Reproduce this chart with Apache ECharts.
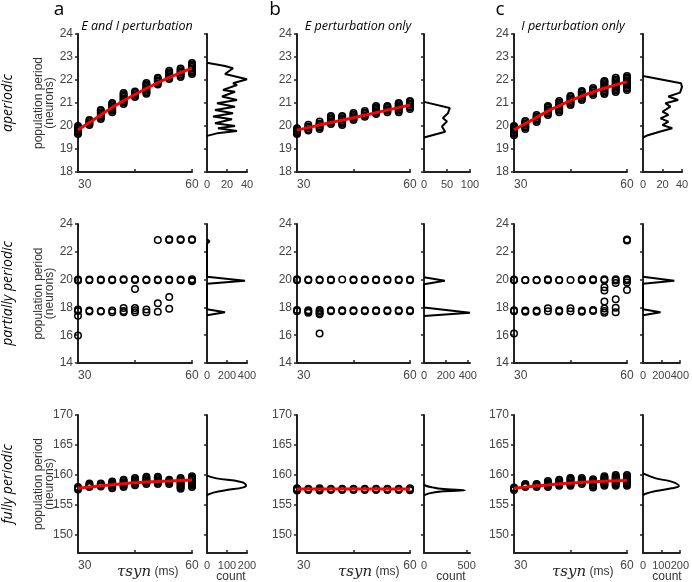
<!DOCTYPE html>
<html><head><meta charset="utf-8">
<script src="https://cdn.jsdelivr.net/npm/echarts@6/dist/echarts.min.js"></script>
<style>html,body{margin:0;padding:0;background:#fff}#c{width:692px;height:582px}</style>
</head><body><div id="c"></div>
<script>
// ---------------- DATA ----------------
const tauSyn = [30,33,36,39,42,45,48,51,54,57,60];
const panelLetters = ['a','b','c'];
const columnTitles = ['E and I perturbation','E perturbation only','I perturbation only'];
const rowTitles = ['aperiodic','partially periodic','fully periodic'];

// Row 1 (aperiodic): population period per tau (columns of repeated trials)
const aperiodicEI = [
 [19.65,19.7,19.76,19.82,19.88,19.94,20.0],
 [20.04,20.1,20.16,20.22,20.26],
 [20.3,20.36,20.42,20.48,20.54,20.6,20.66,20.7],
 [20.6,20.66,20.72,20.78,20.84,20.9,20.96,21.0],
 [20.96,21.02,21.08,21.14,21.2,21.26,21.32,21.38,21.43],
 [21.26,21.32,21.38,21.44,21.5],
 [21.4,21.46,21.52,21.58,21.64,21.7,21.76,21.82,21.87],
 [21.8,21.86,21.92,21.98,22.04,22.1],
 [22.04,22.1,22.16,22.22,22.28,22.34,22.4],
 [22.13,22.19,22.25,22.31,22.37,22.43,22.5],
 [22.26,22.32,22.38,22.44,22.5,22.56,22.62,22.68,22.74]
];
const aperiodicE = [
 [19.65,19.71,19.77,19.83,19.9],
 [19.8,19.86,19.92,19.98,20.05],
 [19.87,19.93,19.99,20.05,20.11,20.2],
 [20.09,20.15,20.21,20.27,20.33,20.39,20.43],
 [20.04,20.1,20.16,20.22,20.28,20.34,20.4,20.43],
 [20.26,20.32,20.38,20.44,20.5,20.57],
 [20.4,20.46,20.52,20.58,20.65],
 [20.52,20.58,20.64,20.7,20.76,20.82,20.87],
 [20.6,20.66,20.72,20.78,20.84,20.87],
 [20.6,20.66,20.72,20.78,20.84,20.9,20.96,21.0],
 [20.74,20.8,20.86,20.92,20.98,21.04,21.09]
];
const aperiodicI = [
 [19.6,19.66,19.72,19.78,19.84,19.9,19.96,20.0],
 [19.87,19.93,19.99,20.05,20.11,20.17,20.22],
 [20.17,20.23,20.29,20.35,20.41,20.48],
 [20.48,20.54,20.6,20.66,20.72,20.78,20.84,20.87],
 [20.6,20.66,20.72,20.78,20.84,20.9,20.96,21.02,21.09],
 [20.91,20.97,21.03,21.09,21.15,21.21,21.27,21.3],
 [21.13,21.19,21.25,21.31,21.37,21.43,21.49,21.52],
 [21.35,21.41,21.47,21.53,21.59,21.65],
 [21.39,21.45,21.51,21.57,21.63,21.69,21.75,21.81,21.87,21.93,21.96],
 [21.48,21.54,21.6,21.66,21.72,21.78,21.84,21.9,21.96,22.02,22.1],
 [21.57,21.63,21.69,21.75,21.81,21.87,21.93,21.99,22.05,22.11,22.17]
];
const fitAperiodicEI = [19.83,20.15,20.48,20.8,21.1,21.37,21.63,21.88,22.1,22.32,22.52];
const fitAperiodicE  = [19.82,19.93,20.04,20.15,20.25,20.36,20.47,20.58,20.69,20.8,20.91];
const fitAperiodicI  = [19.83,20.1,20.37,20.65,20.88,21.1,21.3,21.48,21.64,21.79,21.92];

// Row 2 (partially periodic): [tau, period] points
const partialEI = [
 [30,20.0],[30,19.93],[33,20.0],[33,19.96],[36,20.0],[36,19.96],[39,20.0],[39,19.96],[42,20.03],[42,19.97],[45,20.03],[45,19.97],
 [48,20.0],[48,19.95],[51,20.0],[51,19.95],[54,20.0],[54,19.95],[57,20.0],[57,19.95],[60,20.03],[60,19.93],[60,19.88],
 [30,17.85],[30,17.75],[30,17.4],[30,15.97],[33,17.78],[33,17.7],[36,17.75],[36,17.7],[39,17.78],[39,17.65],
 [42,17.95],[42,17.75],[42,17.65],[45,17.95],[45,17.8],[45,17.65],[48,17.85],[48,17.65],[51,17.68],[51,18.3],
 [54,17.9],[54,18.75],[45,19.33],
 [51,22.85],[54,22.9],[54,22.85],[57,22.9],[57,22.85],[60,22.9],[60,22.85]
];
const partialE = [
 [30,20.02],[30,19.95],[33,20.0],[33,19.96],[36,20.0],[36,19.96],[39,20.0],[39,19.96],[42,20.0],[45,20.0],[45,19.96],
 [48,20.0],[48,19.96],[51,20.0],[51,19.96],[54,20.0],[54,19.96],[57,20.0],[57,19.96],[60,20.0],[60,19.96],
 [30,17.82],[30,17.72],[33,17.8],[33,17.72],[36,17.82],[36,17.72],[39,17.8],[39,17.72],[42,17.8],[42,17.72],
 [45,17.8],[45,17.72],[48,17.8],[48,17.72],[51,17.8],[51,17.72],[54,17.8],[54,17.72],[57,17.8],[57,17.72],
 [60,17.8],[60,17.72],[33,17.62],[36,17.6],[36,17.5],[36,16.12]
];
const partialI = [
 [30,20.0],[30,19.95],[33,19.98],[33,19.95],[36,19.98],[36,19.95],[39,20.02],[39,19.96],[42,19.98],[42,19.95],[45,19.98],
 [48,20.02],[48,19.95],[51,20.02],[51,19.95],[54,20.02],[54,19.95],[57,20.02],[57,19.93],[57,19.75],[60,20.05],[60,19.95],[60,19.8],
 [30,17.8],[30,17.72],[33,17.78],[33,17.68],[36,17.78],[36,17.68],[39,17.93],[39,17.72],[42,17.8],[42,17.7],
 [45,17.93],[45,17.72],[48,17.78],[48,17.68],[51,17.82],[51,17.75],
 [30,16.12],[54,19.45],[54,19.22],[54,18.42],[54,17.92],[54,17.75],[54,17.62],[57,18.58],[57,17.98],[57,17.65],
 [60,22.88],[60,22.82],[60,19.25]
];

// Row 3 (fully periodic)
const fullyEI = [
 [157.6,157.8,158.0],
 [158.0,158.2,158.4,158.6],
 [158.1,158.3,158.5,158.6],
 [157.8,158.0,158.2,158.4,158.6,158.8,158.9],
 [158.0,158.2,158.4,158.6,158.8,159.0,159.2],
 [158.3,158.5,158.7,158.9,159.1,159.3,159.5],
 [158.5,158.7,158.9,159.1,159.3,159.5,159.7],
 [158.5,158.7,158.9,159.1,159.3,159.5,159.7],
 [158.5,158.7,158.9,159.0,159.2],
 [157.7,157.9,158.1,158.3,158.5,158.7,158.9,159.1,159.3,159.5],
 [158.0,158.2,158.4,158.6,158.8,159.0,159.2,159.4,159.6,159.8]
];
const fullyE = [
 [157.4,157.6,157.8],[157.5,157.7],[157.4,157.6,157.8],[157.5,157.7],[157.5,157.7],[157.5,157.7],
 [157.5,157.7],[157.5,157.7],[157.5,157.7],[157.5,157.7],[157.45,157.65,157.8]
];
const fullyI = [
 [157.5,157.7,157.9],
 [158.0,158.2,158.4,158.5],
 [158.0,158.2,158.4,158.5],
 [158.0,158.2,158.4,158.6,158.8,159.0],
 [158.2,158.4,158.6,158.8,159.0,159.2],
 [158.2,158.4,158.6,158.8,159.0,159.2,159.4,159.5],
 [158.5,158.7,158.9,159.1,159.3,159.5],
 [157.9,158.1,158.3,158.5,158.7,158.9,159.1,159.3],
 [158.2,158.4,158.6,158.8,159.0,159.2,159.4,159.6,159.8],
 [158.2,158.4,158.6,158.8,159.0,159.2,159.4,159.6,159.8,160.0],
 [158.2,158.4,158.6,158.8,159.0,159.2,159.4,159.6,159.8,160.0]
];
const fitFullyEI = [157.8,158.0,158.2,158.38,158.55,158.7,158.82,158.92,159.0,159.08,159.15];
const fitFullyE  = [157.68,157.68,157.68,157.68,157.68,157.68,157.68,157.68,157.68,157.68,157.68];
const fitFullyI  = [157.8,157.98,158.16,158.33,158.5,158.64,158.76,158.87,158.96,159.04,159.1];

// Histograms: [count, population period]
const histAperiodicEI = [[0,19.57],[10,19.68],[30,19.78],[11,19.9],[28,20.0],[8,20.12],[25,20.29],[6,20.41],[26,20.55],[8,20.7],[28,20.84],[10,20.99],[30,21.13],[15,21.28],[28,21.49],[16,21.57],[30,21.78],[26,21.86],[40,22.03],[18,22.26],[26,22.51],[18,22.61],[0,22.75]];
const histAperiodicE = [[0,19.5],[46,19.75],[39,19.98],[50,20.2],[41,20.35],[52,20.55],[56,20.78],[0,21.05]];
const histAperiodicI = [[0,19.5],[5,19.6],[17,19.75],[30,19.9],[20,20.04],[26,20.19],[18,20.33],[26,20.48],[20,20.62],[28,20.84],[23,20.99],[36,21.13],[26,21.28],[38,21.45],[40,21.7],[39,21.86],[0,22.17]];
const histPartialEI = [[0,17.43],[180,17.65],[0,17.86],[0,19.7],[380,19.92],[0,20.2],[0,22.6],[25,22.75],[0,22.9]];
const histPartialE = [[0,17.38],[420,17.62],[0,18.0],[0,19.66],[190,19.92],[0,20.17]];
const histPartialI = [[0,17.43],[190,17.65],[0,17.86],[0,19.7],[340,19.92],[0,20.2]];
const histFullyEI = [[0,156.67],[32,157.06],[98,157.5],[182,157.94],[195,158.3],[165,158.89],[48,159.44],[0,159.89]];
const histFullyE = [[0,156.6],[60,156.94],[200,157.25],[480,157.45],[200,157.7],[100,157.94],[20,158.2],[0,158.5]];
const histFullyI = [[0,156.6],[10,156.83],[70,157.33],[155,157.78],[195,158.17],[155,158.89],[70,159.44],[0,160.28]];

// axis ranges and tick labels
const periodAxes = [
 {min:18, max:24, ticks:[18,19,20,21,22,23,24]},
 {min:14, max:24, ticks:[14,16,18,20,22,24]},
 {min:147, max:170, ticks:[150,155,160,165,170]}
];
const countAxes = [
 [{max:40,ticks:[0,20,40]},{max:100,ticks:[0,50,100]},{max:40,ticks:[0,20,40]}],
 [{max:400,ticks:[0,200,400]},{max:420,ticks:[0,200,400]},{max:400,ticks:[0,200,400]}],
 [{max:200,ticks:[0,100,200]},{max:540,ticks:[0,500]},{max:200,ticks:[0,100,200]}]
];

// ---------------- LAYOUT ----------------
const scatLeft = [78, 297, 514], scatW = [114, 113, 113];
const histLeft = [207, 424, 643], histW = [40, 46, 39];
const rowTop = [34, 224, 415], rowH = [138, 139, 138];

const columnsData = [
 [aperiodicEI, aperiodicE, aperiodicI],
 [partialEI, partialE, partialI],
 [fullyEI, fullyE, fullyI]
];
const fitData = [
 [fitAperiodicEI, fitAperiodicE, fitAperiodicI],
 null,
 [fitFullyEI, fitFullyE, fitFullyI]
];
const histData = [
 [histAperiodicEI, histAperiodicE, histAperiodicI],
 [histPartialEI, histPartialE, histPartialI],
 [histFullyEI, histFullyE, histFullyI]
];

const AX = '#222', LAB = '#444', FONT = '"Liberation Sans", Arial, sans-serif';
const grids = [], xAxes = [], yAxes = [], series = [];

function yAxisDef(gi, r, showLabels) {
  const pa = periodAxes[r];
  return {
    type:'value', gridIndex:gi, min:pa.min, max:pa.max,
    axisLine:{show:true, lineStyle:{color:AX, width:2}},
    axisTick:{show:true, inside:false, length:3, lineStyle:{color:AX, width:1.5}, customValues:pa.ticks},
    axisLabel:{show:showLabels, color:LAB, fontSize:12, fontFamily:FONT, margin:5, customValues:pa.ticks},
    splitLine:{show:false}
  };
}

for (let r = 0; r < 3; r++) {
  for (let c = 0; c < 3; c++) {
    const gi = grids.length;
    grids.push({left:scatLeft[c], top:rowTop[r], width:scatW[c], height:rowH[r], containLabel:false});
    xAxes.push({
      type:'value', gridIndex:gi, min:30, max:60, interval:15,
      axisLine:{show:true, lineStyle:{color:AX, width:2}},
      axisTick:{show:true, inside:true, length:3, lineStyle:{color:AX, width:1.5}},
      axisLabel:{color:LAB, fontSize:12, fontFamily:FONT, margin:7, formatter:v => (v===45 ? '' : String(v)), alignMinLabel:'left', showMaxLabel:true, showMinLabel:true},
      splitLine:{show:false}
    });
    yAxes.push(yAxisDef(gi, r, true));
    let pts;
    if (r === 1) pts = columnsData[r][c];
    else {
      pts = [];
      columnsData[r][c].forEach((col, i) => col.forEach(v => pts.push([tauSyn[i], v])));
    }
    series.push({
      type:'scatter', xAxisIndex:gi, yAxisIndex:gi, data:pts,
      symbol:'circle', symbolSize:6.5, clip:false, z:3,
      itemStyle:{color:'rgba(255,255,255,0)', borderColor:'#000', borderWidth:1.5, opacity:1},
      emphasis:{disabled:true}, silent:true
    });
    if (fitData[r]) {
      series.push({
        type:'line', xAxisIndex:gi, yAxisIndex:gi, smooth:true, showSymbol:false, symbol:'none', z:5,
        data: tauSyn.map((t, i) => [t, fitData[r][c][i]]),
        lineStyle:{color:'#ff0000', width:3}, silent:true
      });
    }
  }
}
for (let r = 0; r < 3; r++) {
  for (let c = 0; c < 3; c++) {
    const gi = grids.length;
    const ca = countAxes[r][c];
    grids.push({left:histLeft[c], top:rowTop[r], width:histW[c], height:rowH[r], containLabel:false});
    xAxes.push({
      type:'value', gridIndex:gi, min:0, max:ca.max,
      axisLine:{show:true, lineStyle:{color:AX, width:2}},
      axisTick:{show:true, inside:true, length:3, lineStyle:{color:AX, width:1.5}, customValues:ca.ticks},
      axisLabel:{color:LAB, fontSize:11, fontFamily:FONT, margin:7, customValues:ca.ticks, hideOverlap:false},
      splitLine:{show:false}
    });
    yAxes.push(yAxisDef(gi, r, false));
    series.push({
      type:'line', xAxisIndex:gi, yAxisIndex:gi, showSymbol:false, symbol:'none',
      smooth: r === 2 ? 0.4 : false, data: histData[r][c], z:4,
      lineStyle:{color:'#000', width:2}, silent:true
    });
  }
}

// ---------------- TEXT ----------------
const graphic = [];
const letterX = [59, 275, 500];
const titleX = [137, 358, 573];
for (let c = 0; c < 3; c++) {
  graphic.push({type:'text', x:letterX[c], y:10, style:{text:panelLetters[c], font:'19px "Open Sans", sans-serif', fill:'#000', textAlign:'center', textVerticalAlign:'middle'}});
  graphic.push({type:'text', x:titleX[c], y:26, style:{text:columnTitles[c], font:'italic 12.5px "Open Sans", sans-serif', fill:'#000', textAlign:'center', textVerticalAlign:'middle'}});
}
for (let r = 0; r < 3; r++) {
  const cy = rowTop[r] + rowH[r] / 2;
  graphic.push({type:'text', x:8, y:cy, rotation:Math.PI/2, style:{text:rowTitles[r], font:'italic 14px "Open Sans", sans-serif', fill:'#000', textAlign:'center', textVerticalAlign:'middle'}});
  graphic.push({type:'text', x:44, y:cy, rotation:Math.PI/2, style:{text:'population period\n(neurons)', font:'12px ' + FONT, fill:'#333', lineHeight:11, textAlign:'center', textVerticalAlign:'middle'}});
}
const xNameLeft = [117, 338, 552];
const countX = [231, 451, 667];
for (let c = 0; c < 3; c++) {
  graphic.push({type:'text', x:xNameLeft[c], y:572, style:{
    text:'{m|τ}{m|syn} {u|(ms)}', textAlign:'left', textVerticalAlign:'middle',
    rich:{m:{fontStyle:'italic', fontSize:15, fontFamily:'"DejaVu Serif", serif', fill:'#222'}, u:{fontSize:12, fontFamily:FONT, fill:'#333'}}
  }});
  graphic.push({type:'text', x:countX[c], y:577, style:{text:'count', font:'12px ' + FONT, fill:'#333', textAlign:'center', textVerticalAlign:'middle'}});
}

const chart = echarts.init(document.getElementById('c'), null, {renderer:'canvas'});
chart.setOption({
  animation:false, backgroundColor:'#fff',
  grid:grids, xAxis:xAxes, yAxis:yAxes, series:series, graphic:graphic
});
</script>
</body></html>
